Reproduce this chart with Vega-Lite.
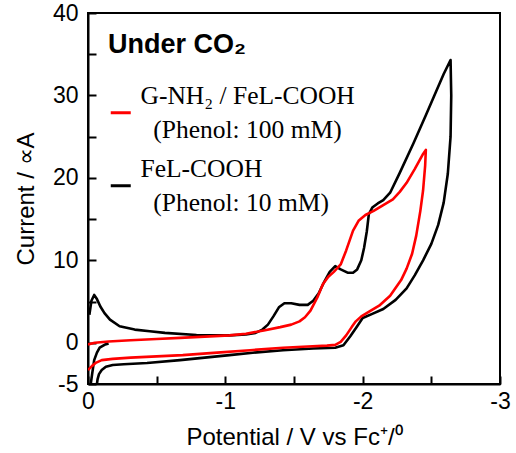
{
  "$schema": "https://vega.github.io/schema/vega-lite/v6.json",
  "width": 412,
  "height": 371,
  "autosize": {"type": "none"},
  "padding": {"left": 88, "top": 13, "right": 16, "bottom": 69},
  "background": "white",
  "config": {
    "view": {"stroke": "black", "strokeWidth": 2},
    "font": "Liberation Sans",
    "axis": {
      "grid": false,
      "domainColor": "black",
      "domainWidth": 2,
      "tickColor": "black",
      "tickWidth": 2,
      "tickSize": -8,
      "labelFont": "Liberation Sans",
      "labelFontSize": 23,
      "labelColor": "black",
      "labelFlush": false,
      "labelOverlap": false,
      "titleFont": "Liberation Sans",
      "titleFontSize": 24,
      "titleFontWeight": "normal",
      "titleColor": "black"
    }
  },
  "datasets": {
    "red": [
      {"s":"G-NH₂ / FeL-COOH","g":1,"i":1,"v":0.0,"c":-0.2},
      {"s":"G-NH₂ / FeL-COOH","g":1,"i":2,"v":-0.05,"c":0.0},
      {"s":"G-NH₂ / FeL-COOH","g":1,"i":3,"v":-0.15,"c":0.15},
      {"s":"G-NH₂ / FeL-COOH","g":1,"i":4,"v":-0.31,"c":0.3},
      {"s":"G-NH₂ / FeL-COOH","g":1,"i":5,"v":-0.5,"c":0.45},
      {"s":"G-NH₂ / FeL-COOH","g":1,"i":6,"v":-0.67,"c":0.6},
      {"s":"G-NH₂ / FeL-COOH","g":1,"i":7,"v":-0.85,"c":0.75},
      {"s":"G-NH₂ / FeL-COOH","g":1,"i":8,"v":-1.03,"c":0.9},
      {"s":"G-NH₂ / FeL-COOH","g":1,"i":9,"v":-1.15,"c":1.1},
      {"s":"G-NH₂ / FeL-COOH","g":1,"i":10,"v":-1.28,"c":1.5},
      {"s":"G-NH₂ / FeL-COOH","g":1,"i":11,"v":-1.4,"c":1.9},
      {"s":"G-NH₂ / FeL-COOH","g":1,"i":12,"v":-1.48,"c":2.2},
      {"s":"G-NH₂ / FeL-COOH","g":1,"i":13,"v":-1.54,"c":2.6},
      {"s":"G-NH₂ / FeL-COOH","g":1,"i":14,"v":-1.58,"c":3.1},
      {"s":"G-NH₂ / FeL-COOH","g":1,"i":15,"v":-1.62,"c":3.9},
      {"s":"G-NH₂ / FeL-COOH","g":1,"i":16,"v":-1.67,"c":5.5},
      {"s":"G-NH₂ / FeL-COOH","g":1,"i":17,"v":-1.71,"c":7.1},
      {"s":"G-NH₂ / FeL-COOH","g":1,"i":18,"v":-1.75,"c":8.0},
      {"s":"G-NH₂ / FeL-COOH","g":1,"i":19,"v":-1.79,"c":8.6},
      {"s":"G-NH₂ / FeL-COOH","g":1,"i":20,"v":-1.84,"c":9.5},
      {"s":"G-NH₂ / FeL-COOH","g":1,"i":21,"v":-1.88,"c":11.2},
      {"s":"G-NH₂ / FeL-COOH","g":1,"i":22,"v":-1.93,"c":13.6},
      {"s":"G-NH₂ / FeL-COOH","g":1,"i":23,"v":-1.97,"c":14.8},
      {"s":"G-NH₂ / FeL-COOH","g":1,"i":24,"v":-2.02,"c":15.5},
      {"s":"G-NH₂ / FeL-COOH","g":1,"i":25,"v":-2.08,"c":16.0},
      {"s":"G-NH₂ / FeL-COOH","g":1,"i":26,"v":-2.15,"c":16.7},
      {"s":"G-NH₂ / FeL-COOH","g":1,"i":27,"v":-2.22,"c":17.4},
      {"s":"G-NH₂ / FeL-COOH","g":1,"i":28,"v":-2.27,"c":18.3},
      {"s":"G-NH₂ / FeL-COOH","g":1,"i":29,"v":-2.32,"c":19.4},
      {"s":"G-NH₂ / FeL-COOH","g":1,"i":30,"v":-2.38,"c":21.1},
      {"s":"G-NH₂ / FeL-COOH","g":1,"i":31,"v":-2.44,"c":22.9},
      {"s":"G-NH₂ / FeL-COOH","g":1,"i":32,"v":-2.46,"c":23.4},
      {"s":"G-NH₂ / FeL-COOH","g":1,"i":33,"v":-2.455,"c":21.5},
      {"s":"G-NH₂ / FeL-COOH","g":1,"i":34,"v":-2.44,"c":18.5},
      {"s":"G-NH₂ / FeL-COOH","g":1,"i":35,"v":-2.42,"c":16.0},
      {"s":"G-NH₂ / FeL-COOH","g":1,"i":36,"v":-2.39,"c":13.0},
      {"s":"G-NH₂ / FeL-COOH","g":1,"i":37,"v":-2.36,"c":10.8},
      {"s":"G-NH₂ / FeL-COOH","g":1,"i":38,"v":-2.32,"c":9.0},
      {"s":"G-NH₂ / FeL-COOH","g":1,"i":39,"v":-2.28,"c":7.6},
      {"s":"G-NH₂ / FeL-COOH","g":1,"i":40,"v":-2.2,"c":5.7},
      {"s":"G-NH₂ / FeL-COOH","g":1,"i":41,"v":-2.12,"c":4.5},
      {"s":"G-NH₂ / FeL-COOH","g":1,"i":42,"v":-2.05,"c":3.8},
      {"s":"G-NH₂ / FeL-COOH","g":1,"i":43,"v":-1.99,"c":3.2},
      {"s":"G-NH₂ / FeL-COOH","g":1,"i":44,"v":-1.95,"c":2.6},
      {"s":"G-NH₂ / FeL-COOH","g":1,"i":45,"v":-1.92,"c":1.9},
      {"s":"G-NH₂ / FeL-COOH","g":1,"i":46,"v":-1.88,"c":0.9},
      {"s":"G-NH₂ / FeL-COOH","g":1,"i":47,"v":-1.84,"c":0.1},
      {"s":"G-NH₂ / FeL-COOH","g":1,"i":48,"v":-1.8,"c":-0.25},
      {"s":"G-NH₂ / FeL-COOH","g":1,"i":49,"v":-1.74,"c":-0.35},
      {"s":"G-NH₂ / FeL-COOH","g":1,"i":50,"v":-1.6,"c":-0.45},
      {"s":"G-NH₂ / FeL-COOH","g":1,"i":51,"v":-1.42,"c":-0.6},
      {"s":"G-NH₂ / FeL-COOH","g":1,"i":52,"v":-1.18,"c":-0.9},
      {"s":"G-NH₂ / FeL-COOH","g":1,"i":53,"v":-0.94,"c":-1.2},
      {"s":"G-NH₂ / FeL-COOH","g":1,"i":54,"v":-0.69,"c":-1.5},
      {"s":"G-NH₂ / FeL-COOH","g":1,"i":55,"v":-0.5,"c":-1.65},
      {"s":"G-NH₂ / FeL-COOH","g":1,"i":56,"v":-0.31,"c":-1.8},
      {"s":"G-NH₂ / FeL-COOH","g":1,"i":57,"v":-0.18,"c":-1.95},
      {"s":"G-NH₂ / FeL-COOH","g":1,"i":58,"v":-0.1,"c":-2.1},
      {"s":"G-NH₂ / FeL-COOH","g":1,"i":59,"v":-0.06,"c":-2.4},
      {"s":"G-NH₂ / FeL-COOH","g":1,"i":60,"v":-0.03,"c":-2.8},
      {"s":"G-NH₂ / FeL-COOH","g":1,"i":61,"v":0.0,"c":-3.3}
    ],
    "black": [
      {"s":"FeL-COOH","g":1,"i":1,"v":-0.01,"c":3.4},
      {"s":"FeL-COOH","g":1,"i":2,"v":-0.025,"c":5.1},
      {"s":"FeL-COOH","g":1,"i":3,"v":-0.045,"c":5.8},
      {"s":"FeL-COOH","g":1,"i":4,"v":-0.065,"c":5.3},
      {"s":"FeL-COOH","g":1,"i":5,"v":-0.09,"c":4.4},
      {"s":"FeL-COOH","g":1,"i":6,"v":-0.12,"c":3.6},
      {"s":"FeL-COOH","g":1,"i":7,"v":-0.16,"c":2.8},
      {"s":"FeL-COOH","g":1,"i":8,"v":-0.23,"c":2.0},
      {"s":"FeL-COOH","g":1,"i":9,"v":-0.34,"c":1.6},
      {"s":"FeL-COOH","g":1,"i":10,"v":-0.45,"c":1.4},
      {"s":"FeL-COOH","g":1,"i":11,"v":-0.56,"c":1.2},
      {"s":"FeL-COOH","g":1,"i":12,"v":-0.79,"c":0.95},
      {"s":"FeL-COOH","g":1,"i":13,"v":-1.03,"c":0.9},
      {"s":"FeL-COOH","g":1,"i":14,"v":-1.15,"c":1.0},
      {"s":"FeL-COOH","g":1,"i":15,"v":-1.22,"c":1.2},
      {"s":"FeL-COOH","g":1,"i":16,"v":-1.27,"c":1.6},
      {"s":"FeL-COOH","g":1,"i":17,"v":-1.31,"c":2.2},
      {"s":"FeL-COOH","g":1,"i":18,"v":-1.35,"c":3.2},
      {"s":"FeL-COOH","g":1,"i":19,"v":-1.39,"c":4.3},
      {"s":"FeL-COOH","g":1,"i":20,"v":-1.43,"c":4.8},
      {"s":"FeL-COOH","g":1,"i":21,"v":-1.48,"c":4.8},
      {"s":"FeL-COOH","g":1,"i":22,"v":-1.54,"c":4.6},
      {"s":"FeL-COOH","g":1,"i":23,"v":-1.6,"c":4.6},
      {"s":"FeL-COOH","g":1,"i":24,"v":-1.64,"c":5.1},
      {"s":"FeL-COOH","g":1,"i":25,"v":-1.68,"c":6.0},
      {"s":"FeL-COOH","g":1,"i":26,"v":-1.72,"c":7.4},
      {"s":"FeL-COOH","g":1,"i":27,"v":-1.76,"c":8.6},
      {"s":"FeL-COOH","g":1,"i":28,"v":-1.8,"c":9.3},
      {"s":"FeL-COOH","g":1,"i":29,"v":-1.84,"c":8.9},
      {"s":"FeL-COOH","g":1,"i":30,"v":-1.89,"c":8.5},
      {"s":"FeL-COOH","g":1,"i":31,"v":-1.93,"c":8.5},
      {"s":"FeL-COOH","g":1,"i":32,"v":-1.96,"c":8.9},
      {"s":"FeL-COOH","g":1,"i":33,"v":-1.99,"c":10.0},
      {"s":"FeL-COOH","g":1,"i":34,"v":-2.01,"c":11.5},
      {"s":"FeL-COOH","g":1,"i":35,"v":-2.03,"c":13.5},
      {"s":"FeL-COOH","g":1,"i":36,"v":-2.045,"c":15.6},
      {"s":"FeL-COOH","g":1,"i":37,"v":-2.07,"c":16.4},
      {"s":"FeL-COOH","g":1,"i":38,"v":-2.11,"c":16.9},
      {"s":"FeL-COOH","g":1,"i":39,"v":-2.15,"c":17.3},
      {"s":"FeL-COOH","g":1,"i":40,"v":-2.2,"c":18.2},
      {"s":"FeL-COOH","g":1,"i":41,"v":-2.27,"c":20.6},
      {"s":"FeL-COOH","g":1,"i":42,"v":-2.37,"c":24.2},
      {"s":"FeL-COOH","g":1,"i":43,"v":-2.46,"c":27.6},
      {"s":"FeL-COOH","g":1,"i":44,"v":-2.53,"c":30.3},
      {"s":"FeL-COOH","g":1,"i":45,"v":-2.59,"c":32.6},
      {"s":"FeL-COOH","g":1,"i":46,"v":-2.64,"c":34.3},
      {"s":"FeL-COOH","g":1,"i":47,"v":-2.645,"c":30.0},
      {"s":"FeL-COOH","g":1,"i":48,"v":-2.64,"c":25.0},
      {"s":"FeL-COOH","g":1,"i":49,"v":-2.62,"c":20.5},
      {"s":"FeL-COOH","g":1,"i":50,"v":-2.59,"c":17.0},
      {"s":"FeL-COOH","g":1,"i":51,"v":-2.55,"c":14.3},
      {"s":"FeL-COOH","g":1,"i":52,"v":-2.5,"c":12.0},
      {"s":"FeL-COOH","g":1,"i":53,"v":-2.44,"c":10.0},
      {"s":"FeL-COOH","g":1,"i":54,"v":-2.38,"c":8.2},
      {"s":"FeL-COOH","g":1,"i":55,"v":-2.32,"c":6.6},
      {"s":"FeL-COOH","g":1,"i":56,"v":-2.24,"c":5.2},
      {"s":"FeL-COOH","g":1,"i":57,"v":-2.15,"c":4.1},
      {"s":"FeL-COOH","g":1,"i":58,"v":-2.07,"c":3.5},
      {"s":"FeL-COOH","g":1,"i":59,"v":-2.0,"c":3.0},
      {"s":"FeL-COOH","g":1,"i":60,"v":-1.96,"c":2.0},
      {"s":"FeL-COOH","g":1,"i":61,"v":-1.91,"c":0.8},
      {"s":"FeL-COOH","g":1,"i":62,"v":-1.86,"c":-0.3},
      {"s":"FeL-COOH","g":1,"i":63,"v":-1.8,"c":-0.6},
      {"s":"FeL-COOH","g":1,"i":64,"v":-1.64,"c":-0.7},
      {"s":"FeL-COOH","g":1,"i":65,"v":-1.42,"c":-0.9},
      {"s":"FeL-COOH","g":1,"i":66,"v":-1.2,"c":-1.2},
      {"s":"FeL-COOH","g":1,"i":67,"v":-1.03,"c":-1.5},
      {"s":"FeL-COOH","g":1,"i":68,"v":-0.85,"c":-1.8},
      {"s":"FeL-COOH","g":1,"i":69,"v":-0.67,"c":-2.1},
      {"s":"FeL-COOH","g":1,"i":70,"v":-0.43,"c":-2.45},
      {"s":"FeL-COOH","g":1,"i":71,"v":-0.26,"c":-2.6},
      {"s":"FeL-COOH","g":1,"i":72,"v":-0.18,"c":-2.7},
      {"s":"FeL-COOH","g":1,"i":73,"v":-0.13,"c":-2.9},
      {"s":"FeL-COOH","g":1,"i":74,"v":-0.1,"c":-3.3},
      {"s":"FeL-COOH","g":1,"i":75,"v":-0.08,"c":-3.8},
      {"s":"FeL-COOH","g":1,"i":76,"v":-0.07,"c":-4.4},
      {"s":"FeL-COOH","g":1,"i":77,"v":-0.065,"c":-5.0},
      {"s":"FeL-COOH","g":2,"i":1,"v":-0.02,"c":-5.0},
      {"s":"FeL-COOH","g":2,"i":2,"v":-0.03,"c":-3.8},
      {"s":"FeL-COOH","g":2,"i":3,"v":-0.045,"c":-2.1},
      {"s":"FeL-COOH","g":2,"i":4,"v":-0.065,"c":-1.2},
      {"s":"FeL-COOH","g":2,"i":5,"v":-0.085,"c":-0.6},
      {"s":"FeL-COOH","g":2,"i":6,"v":-0.12,"c":-0.25},
      {"s":"FeL-COOH","g":2,"i":7,"v":-0.15,"c":-0.1}
    ]
  },
  "layer": [
    {
      "data": {"name": "black"},
      "mark": {"type": "line", "strokeWidth": 2.6, "clip": true, "strokeJoin": "round"},
      "encoding": {
        "x": {
          "field": "v", "type": "quantitative",
          "scale": {"domain": [-3, 0], "reverse": true, "nice": false, "zero": false},
          "axis": {
            "title": "Potential / V vs Fc⁺/⁰",
            "values": [0, -0.5, -1, -1.5, -2, -2.5, -3],
            "labelExpr": "datum.value % 1 == 0 ? '' + datum.value : ''",
            "labelPadding": 14,
            "titlePadding": 12
          }
        },
        "y": {
          "field": "c", "type": "quantitative",
          "scale": {"domain": [-5, 40], "nice": false, "zero": false},
          "axis": {
            "title": "Current / ∝A",
            "values": [-5, 0, 5, 10, 15, 20, 25, 30, 35, 40],
            "labelExpr": "(datum.value % 10 == 0 || datum.value == -5) ? '' + datum.value : ''",
            "labelPadding": 18,
            "titleX": -55,
            "titleBaseline": "alphabetic"
          }
        },
        "color": {
          "field": "s", "type": "nominal",
          "scale": {"domain": ["G-NH₂ / FeL-COOH", "FeL-COOH"], "range": ["#ff0000", "#000000"]},
          "legend": {
            "orient": "none",
            "legendX": 20,
            "legendY": 87,
            "title": null,
            "symbolType": "stroke",
            "symbolSize": 400,
            "symbolStrokeWidth": 3,
            "labelFont": "Liberation Serif",
            "labelFontSize": 25.5,
            "labelColor": "black",
            "labelLimit": 0,
            "labelOffset": 7,
            "rowPadding": 12,
            "labelExpr": "datum.label == 'FeL-COOH' ? ['FeL-COOH', '\u200b\u00a0\u00a0(Phenol: 10 mM)'] : ['G-NH₂ / FeL-COOH', '\u200b\u00a0\u00a0(Phenol: 100 mM)']",
            "encode": {
              "labels": {"update": {"lineHeight": {"value": 34}, "dy": {"value": -17}}}
            }
          }
        },
        "detail": {"field": "g", "type": "nominal"},
        "order": {"field": "i", "type": "quantitative"}
      }
    },
    {
      "data": {"name": "red"},
      "mark": {"type": "line", "strokeWidth": 2.6, "clip": true, "strokeJoin": "round"},
      "encoding": {
        "x": {"field": "v", "type": "quantitative"},
        "y": {"field": "c", "type": "quantitative"},
        "color": {"field": "s", "type": "nominal"},
        "detail": {"field": "g", "type": "nominal"},
        "order": {"field": "i", "type": "quantitative"}
      }
    },
    {
      "data": {"values": [{"label": "Under CO₂"}]},
      "mark": {"type": "text", "align": "left", "baseline": "alphabetic", "font": "Liberation Sans", "fontWeight": "bold", "fontSize": 27, "color": "black"},
      "encoding": {
        "x": {"datum": -0.146, "type": "quantitative"},
        "y": {"datum": 35.2, "type": "quantitative"},
        "text": {"field": "label"}
      }
    }
  ]
}
